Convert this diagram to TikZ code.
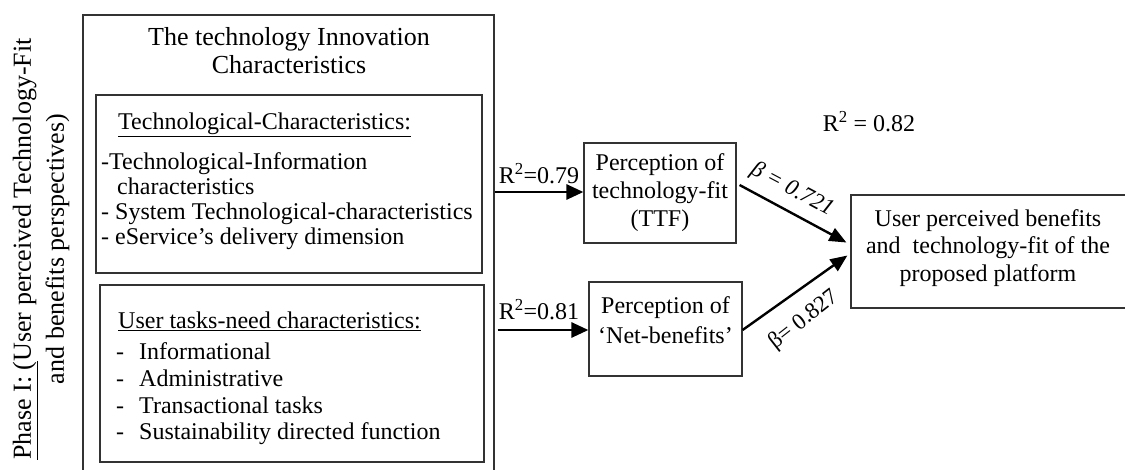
\documentclass[tikz,border=0pt]{standalone}
\usepackage{fontspec}
\setmainfont{Liberation Serif}
\usetikzlibrary{arrows.meta,calc}
\begin{document}
\begin{tikzpicture}[x=1pt,y=-1pt,
  frame/.style={draw=black!80, line width=1.2pt, inner sep=0pt},
  txt/.style={inner sep=0pt, font=\fontsize{24}{28}\selectfont},
  link/.style={line width=2.8pt, -{Triangle[length=17pt,width=15pt]}},
  diag/.style={line width=2.4pt, -{Triangle[length=17pt,width=14pt]}},
]
\useasboundingbox (0,0) rectangle (1125,469);

% phase label on the left
\node[txt, rotate=90, align=center, font=\fontsize{26}{33}\selectfont] (phase) at (41,249)
  {\underline{Phase I: (}User perceived Technology-Fit\\and benefits perspectives)};

% outer frame (runs past the lower edge)
\node[frame, minimum width=411pt, minimum height=470pt] (outer) at (288.5,250) {};
\node[txt, align=center, font=\fontsize{26}{28}\selectfont] (title) at (289,51)
  {The technology Innovation\\Characteristics};

% technological characteristics
\node[frame, minimum width=386pt, minimum height=178pt] (tech) at (289,184) {};
\node[txt, anchor=west] (techhead) at (118,125) {\underline{Technological-Characteristics:}};
\node[txt, anchor=west, align=left, font=\fontsize{24}{25}\selectfont] (techlist) at (101,201)
  {-Technological-Information\\
   \hspace*{16pt}characteristics\\
   - System Technological-characteristics\\
   - eService’s delivery dimension};

% user task characteristics
\node[frame, minimum width=384pt, minimum height=177pt] (task) at (292,373.5) {};
\node[txt, anchor=west] (taskhead) at (118,321) {\underline{User tasks-need characteristics:}};
\node[txt, anchor=west, align=left, font=\fontsize{24}{26.7}\selectfont] (tasklist) at (116,394)
  {\makebox[23pt][l]{-}Informational\\
   \makebox[23pt][l]{-}Administrative\\
   \makebox[23pt][l]{-}Transactional tasks\\
   \makebox[23pt][l]{-}Sustainability directed function};

% mediating constructs
\node[frame, txt, align=center, minimum width=152pt, minimum height=100pt] (ttf) at (660,193)
  {Perception of\\technology-fit\\(TTF)};
\node[frame, minimum width=153pt, minimum height=94pt] (net) at (665.5,329) {};
\node[txt, align=center, font=\fontsize{24}{30}\selectfont] (nettext) at (665.5,320)
  {Perception of\\‘Net-benefits’};

% outcome
\node[frame, minimum width=284pt, minimum height=113pt] (out) at (993,251.5) {};
\node[txt, align=center, font=\fontsize{24}{27.5}\selectfont] (outtext) at (988,248)
  {User perceived benefits\\and~~technology-fit of the\\proposed platform};

% paths
\draw[link] (outer.east |- ttf.west) ++(0,-1) coordinate (s1) -- (s1 -| ttf.west);
\draw[link] ($(outer.east |- net.west)+(3,1)$) coordinate (s2) -- (s2 -| net.west);
\draw[diag] ($(ttf.east)+(3,-8)$) -- ($(out.west)+(-4,-9)$);
\draw[diag] ($(net.east)+(0,1)$) -- ($(out.west)+(-3,4)$);

% coefficients
\node[txt] (r1) at (539,174) {R\textsuperscript{2}=0.79};
\node[txt] (r2) at (539,310) {R\textsuperscript{2}=0.81};
\node[txt] (r3) at (869,122) {R\textsuperscript{2} = 0.82};
\node[txt, rotate=-28, font=\fontsize{23}{26}\itshape] (b1) at (792,190) {β = 0.721};
\node[txt, rotate=38, font=\fontsize{23}{26}\selectfont] (b2) at (804,320) {β= 0.827};
\end{tikzpicture}
\end{document}
